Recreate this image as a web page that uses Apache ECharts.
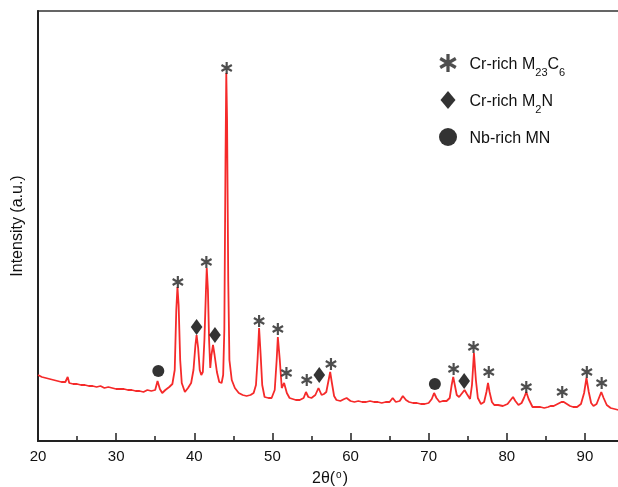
<!DOCTYPE html>
<html><head><meta charset="utf-8">
<script src="https://cdn.jsdelivr.net/npm/echarts@6/dist/echarts.min.js"></script>
<style>html,body{margin:0;padding:0;background:#fff;overflow:hidden}#c{width:663px;height:487px}</style>
</head><body><div id="c"></div>
<script>
// XRD pattern (2θ in degrees, intensity in arbitrary units)
var twoTheta = [20.0,20.5,21.0,21.5,22.0,22.5,23.0,23.5,23.8,24.0,24.5,25.0,25.5,26.0,26.5,27.0,27.5,28.0,28.5,29.0,29.5,30.0,30.5,31.0,31.5,32.0,32.5,33.0,33.5,34.0,34.5,35.0,35.3,35.6,35.9,36.3,36.8,37.2,37.5,37.7,37.85,38.0,38.2,38.4,38.8,39.2,39.6,39.9,40.15,40.3,40.5,40.7,40.9,41.1,41.3,41.5,41.6,41.75,41.9,42.05,42.2,42.4,42.6,42.9,43.2,43.5,43.7,43.85,44.0,44.1,44.2,44.35,44.5,44.8,45.2,45.7,46.2,46.7,47.2,47.6,47.9,48.1,48.3,48.5,48.7,49.0,49.5,49.9,50.3,50.55,50.7,50.95,51.2,51.5,51.85,52.2,52.6,53.0,53.5,54.0,54.3,54.6,55.0,55.5,55.9,56.3,56.6,56.9,57.2,57.4,57.6,57.9,58.2,58.7,59.2,59.5,60.0,60.5,61.0,61.5,62.0,62.5,63.0,63.5,64.0,64.5,65.0,65.4,65.8,66.3,66.7,67.1,67.5,68.0,68.5,69.0,69.5,70.0,70.4,70.7,71.0,71.4,71.8,72.3,72.7,72.95,73.15,73.35,73.6,73.9,74.3,74.6,74.9,75.3,75.55,75.8,76.05,76.3,76.7,77.1,77.4,77.6,77.8,78.1,78.4,78.9,79.5,80.1,80.5,80.8,81.1,81.5,81.9,82.2,82.5,82.8,83.3,83.8,84.3,84.8,85.3,85.6,86.0,86.5,87.0,87.3,87.7,88.1,88.5,89.0,89.5,89.9,90.2,90.5,90.8,91.1,91.5,91.8,92.1,92.4,92.8,93.3,93.8,94.3,94.6];
var intensity = [66,64,63,62,61,60,59,59,64,58,57,57,56,56,55,55,54,55,53,54,53,52,52,52,51,51,50,50,49,51,50,51,60,52,48,51,54,57,71,131,154,136,81,58,49,53,58,71,96,106,93,71,66,69,101,151,173,151,101,73,86,96,86,69,59,58,66,111,281,368,321,161,81,61,53,48,46,45,46,48,56,81,113,86,56,44,43,43,51,81,104,81,53,58,48,43,42,41,41,43,49,44,43,46,53,46,47,49,61,69,59,45,41,40,42,43,40,39,40,39,39,40,39,39,38,39,39,43,39,40,45,41,39,38,38,37,37,38,42,48,43,39,40,40,43,56,64,56,46,44,48,51,47,42,56,88,61,43,37,39,49,58,49,39,36,36,35,37,41,44,40,36,38,43,49,42,34,34,34,33,34,35,35,37,39,39,37,35,34,34,37,48,63,49,38,35,37,43,49,43,36,33,32,31,31];

// Phase markers above the peaks [2θ, intensity]
var starMarks = [[37.9,159],[41.55,179],[44.15,373],[48.3,120],[50.7,112],[51.8,68],[54.4,61],[57.5,77],[73.2,72],[75.75,94],[77.7,69],[82.5,54],[87.1,49],[90.25,69],[92.15,58]];
var diamondMarks = [[40.3,114],[42.65,106],[56.0,66],[74.55,60]];
var circleMarks = [[35.4,70],[70.8,57]];

var xTicks = [20,30,40,50,60,70,80,90];
var phaseNames = ['Cr-rich M23C6','Cr-rich M2N','Nb-rich MN'];

var FONT = 'Liberation Sans, Arial, sans-serif';
var starPath = 'path://M-1.8,-10L1.8,-10L1.8,10L-1.8,10Z M7.76,-6.56L9.56,-3.44L-7.76,6.56L-9.56,3.44Z M-9.56,-3.44L-7.76,-6.56L9.56,3.44L7.76,6.56Z';
var diamondPath = 'path://M0,-9L7.5,0L0,9L-7.5,0Z';

var xrd = twoTheta.map(function(t,i){return [t, intensity[i]];});
var richText = {
  a:{fontSize:16,fontFamily:FONT,color:'#111',lineHeight:20,verticalAlign:'bottom'},
  s:{fontSize:11,fontFamily:FONT,color:'#111',lineHeight:20,verticalAlign:'bottom',padding:[0,0,-5,0]}
};

var chart = echarts.init(document.getElementById('c'), null, {renderer:'canvas'});
chart.setOption({
  animation:false,
  backgroundColor:'#fff',
  grid:{left:38, top:11, right:0, bottom:46, show:true, borderColor:'#333', borderWidth:1.5, backgroundColor:'transparent'},
  xAxis:{
    type:'value', min:20, max:100, interval:10,
    axisLine:{show:true, lineStyle:{color:'#222', width:2}},
    axisTick:{show:true, inside:true, length:8, lineStyle:{color:'#222', width:1.5}},
    minorTick:{show:true, splitNumber:2, length:5, lineStyle:{color:'#222', width:1.5}},
    splitLine:{show:false},
    axisLabel:{fontSize:15, fontFamily:FONT, color:'#111', margin:8, showMaxLabel:false,
      formatter:function(v){return xTicks.indexOf(v)>=0 ? String(v) : '';}}
  },
  yAxis:{
    type:'value', min:0, max:430,
    name:'Intensity (a.u.)', nameLocation:'middle', nameGap:12,
    nameTextStyle:{fontSize:16, fontFamily:FONT, color:'#111'},
    axisLine:{show:true, lineStyle:{color:'#222', width:2}},
    axisTick:{show:false}, axisLabel:{show:false}, splitLine:{show:false}
  },
  legend:{
    data:phaseNames, orient:'vertical', left:434, top:49, itemWidth:33, itemHeight:18, itemGap:13,
    symbolKeepAspect:true,
    formatter:function(n){
      if(n==='Cr-rich M23C6') return '{a|Cr-rich M}{s|23}{a|C}{s|6}';
      if(n==='Cr-rich M2N') return '{a|Cr-rich M}{s|2}{a|N}';
      return '{a|'+n+'}';
    },
    textStyle:{fontSize:16, fontFamily:FONT, color:'#111', rich:richText}
  },
  graphic:[{type:'text', x:330, y:477, style:{text:'{a|2θ(}{o|o}{a|)}', align:'center', verticalAlign:'middle',
    rich:{a:{fontSize:16,fontFamily:FONT,fill:'#111',lineHeight:20,verticalAlign:'bottom'},
          o:{fontSize:10,fontFamily:FONT,fill:'#111',lineHeight:20,verticalAlign:'bottom',padding:[0,1,7,1]}}}}],
  series:[
    {type:'line', name:'XRD', data:xrd, showSymbol:false, symbol:'none', lineStyle:{color:'#f52a2a', width:1.8}, z:2, silent:true},
    {type:'scatter', name:phaseNames[0], data:starMarks, symbol:starPath, symbolSize:12, symbolKeepAspect:true, itemStyle:{color:'#222'}, z:5},
    {type:'scatter', name:phaseNames[1], data:diamondMarks, symbol:diamondPath, symbolSize:[14,16], symbolKeepAspect:true, itemStyle:{color:'#000'}, z:5},
    {type:'scatter', name:phaseNames[2], data:circleMarks, symbol:'circle', symbolSize:12, itemStyle:{color:'#000'}, z:5}
  ]
});
</script></body></html>
